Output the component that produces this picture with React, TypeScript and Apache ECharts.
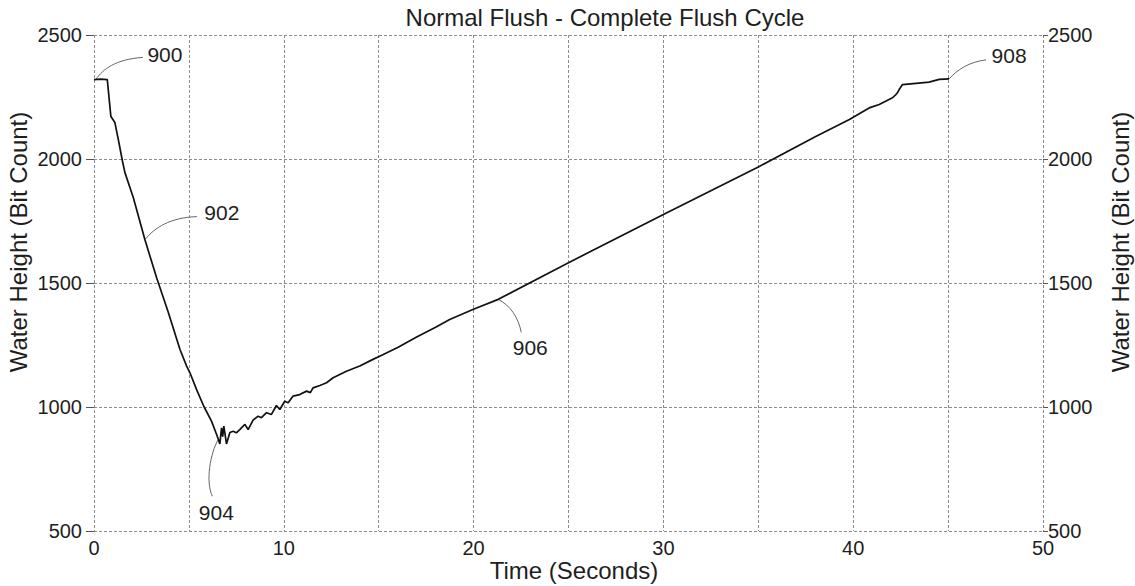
import React, { useEffect, useRef } from "react";
import * as echarts from "echarts";

// ---- data ----
const timeSec = [
  0, 0.35, 0.7, 0.89, 1.1, 1.28, 1.49, 1.63, 2.07, 2.68, 3.3, 3.9, 4.53, 4.88, 5.05, 5.4, 5.79,
  6.19, 6.46, 6.55, 6.63, 6.72, 6.78, 6.84, 6.98, 7.16, 7.33, 7.5, 7.68, 7.95, 8.12, 8.38, 8.65,
  8.82, 9.09, 9.35, 9.61, 9.79, 10.05, 10.23, 10.49, 10.84, 11.2, 11.4, 11.54, 11.9, 12.25, 12.6,
  13.3, 14.0, 14.7, 15.05, 16.0, 17.0, 18.0, 18.74, 19.96, 21.3, 25, 30, 35, 38, 39.8, 40.84,
  41.37, 42.07, 42.25, 42.33, 42.42, 42.6, 44.0, 44.53, 45.05,
];
const waterHeight = [
  2320, 2322, 2320, 2171, 2147, 2079, 1995, 1945, 1845, 1675, 1521, 1385, 1232, 1165, 1139, 1071, 1002,
  943, 889, 870, 851, 916, 880, 923, 851, 897, 902, 896, 909, 930, 909, 947, 963,
  957, 977, 970, 1006, 990, 1023, 1017, 1044, 1050, 1064, 1058, 1077, 1087, 1098, 1118,
  1144, 1165, 1192, 1205, 1240, 1282, 1322, 1353, 1393, 1434, 1582, 1776, 1968, 2090, 2159, 2206,
  2220, 2247, 2260, 2267, 2280, 2300, 2310, 2321, 2323,
];

// annotation reference numbers and the data point each one points at
const annoLabels = ["900", "902", "904", "906", "908"];
const annoTime = [0.1, 2.68, 6.55, 21.3, 45.05];
const annoHeight = [2321, 1675, 870, 1434, 2323];

// layout of the leader curves (pixel offsets from the anchor point)
const annoLayout = [
  { c1: [7, -10], c2: [19, -20], end: [47, -22], text: [69, -25] },
  { c1: [10, -12], c2: [25, -22], end: [52, -23], text: [77, -27] },
  { c1: [-8, 14], c2: [-13, 42], end: [-6, 57], text: [-2, 73] },
  { c1: [12, 6], c2: [20, 18], end: [23, 33], text: [32, 48] },
  { c1: [8, -9], c2: [20, -17], end: [37, -19], text: [60, -23] },
];

const chartTitle = "Normal Flush - Complete Flush Cycle";
const xTitle = "Time (Seconds)";
const yTitle = "Water Height (Bit Count)";

const FONT = "'Liberation Sans', Arial, Helvetica, sans-serif";
const TEXT = "#1e1e1e";
const GRID = "#8c8c8c";

export default function App() {
  const ref = useRef<HTMLDivElement>(null);

  useEffect(() => {
    if (!ref.current) return;
    const chart = echarts.init(ref.current, undefined, { renderer: "svg" });

    const splitLine = {
      show: true,
      lineStyle: { color: GRID, type: [3, 2] as any, width: 1 },
    };
    const plain = (v: number) => String(v);

    chart.setOption({
      animation: false,
      backgroundColor: "#ffffff",
      grid: { left: 94, right: 92, top: 35, bottom: 55, containLabel: false },
      xAxis: {
        type: "value",
        min: 0,
        max: 50,
        interval: 5,
        axisLine: { show: false },
        axisTick: { show: false },
        axisLabel: {
          formatter: (v: number) => (v % 10 === 0 ? String(v) : ""),
          fontSize: 20,
          fontFamily: FONT,
          color: TEXT,
          margin: 7,
        },
        splitLine,
      },
      yAxis: [
        {
          type: "value",
          position: "left",
          min: 500,
          max: 2500,
          interval: 500,
          axisLine: { show: false },
          axisTick: { show: true, length: 8, lineStyle: { color: "#555" } },
          axisLabel: { formatter: plain, fontSize: 20, fontFamily: FONT, color: TEXT, margin: 12 },
          splitLine,
        },
        {
          type: "value",
          position: "right",
          min: 500,
          max: 2500,
          interval: 500,
          axisLine: { show: false },
          axisTick: { show: true, length: 5, lineStyle: { color: "#555" } },
          axisLabel: { formatter: plain, fontSize: 20, fontFamily: FONT, color: TEXT, margin: 5 },
          splitLine: { show: false },
        },
      ],
      series: [
        {
          type: "line",
          xAxisIndex: 0,
          yAxisIndex: 0,
          data: timeSec.map((t, i) => [t, waterHeight[i]]),
          symbol: "none",
          showSymbol: false,
          lineStyle: { color: "#111", width: 1.7 },
        },
      ],
    });

    const graphics: any[] = [
      {
        type: "text",
        x: 605,
        y: 17,
        style: { text: chartTitle, fontSize: 24, fontFamily: FONT, fill: TEXT, align: "center", verticalAlign: "middle" },
      },
      {
        type: "text",
        x: 574,
        y: 570,
        style: { text: xTitle, fontSize: 24, fontFamily: FONT, fill: TEXT, align: "center", verticalAlign: "middle" },
      },
      {
        type: "text",
        x: 18,
        y: 242,
        rotation: Math.PI / 2,
        style: { text: yTitle, fontSize: 24, fontFamily: FONT, fill: TEXT, align: "center", verticalAlign: "middle" },
      },
      {
        type: "text",
        x: 1120,
        y: 242,
        rotation: Math.PI / 2,
        style: { text: yTitle, fontSize: 24, fontFamily: FONT, fill: TEXT, align: "center", verticalAlign: "middle" },
      },
    ];

    annoLabels.forEach((label, i) => {
      const p = chart.convertToPixel({ gridIndex: 0 }, [annoTime[i], annoHeight[i]]) as number[];
      const L = annoLayout[i];
      graphics.push({
        type: "bezierCurve",
        shape: {
          x1: p[0],
          y1: p[1],
          cpx1: p[0] + L.c1[0],
          cpy1: p[1] + L.c1[1],
          cpx2: p[0] + L.c2[0],
          cpy2: p[1] + L.c2[1],
          x2: p[0] + L.end[0],
          y2: p[1] + L.end[1],
        },
        style: { stroke: "#666", fill: "none", lineWidth: 1 },
        silent: true,
      });
      graphics.push({
        type: "text",
        x: p[0] + L.text[0],
        y: p[1] + L.text[1],
        style: { text: label, fontSize: 21, fontFamily: FONT, fill: TEXT, align: "center", verticalAlign: "middle" },
      });
    });

    chart.setOption({ graphic: graphics });

    return () => chart.dispose();
  }, []);

  return (
    <div
      ref={ref}
      style={{ position: "absolute", left: 0, top: 0, width: 1135, height: 586, background: "#fff" }}
    />
  );
}
